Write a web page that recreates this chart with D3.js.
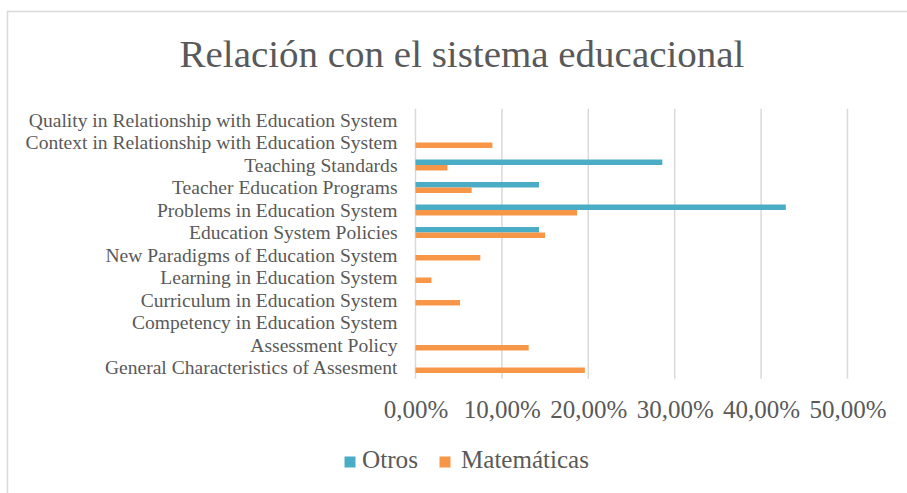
<!DOCTYPE html>
<html>
<head>
<meta charset="utf-8">
<script src="https://cdn.jsdelivr.net/npm/d3@7"></script>
<style>
  html, body { margin: 0; padding: 0; background: #fff; }
  svg { display: block; }
  svg text { font-family: "Liberation Serif", "DejaVu Serif", serif; fill: #595959; }
</style>
</head>
<body>
<svg id="chart" width="907" height="493"></svg>
<script>
// Categories, top to bottom
const categories = [
  "Quality in Relationship with Education System",
  "Context in Relationship with Education System",
  "Teaching Standards",
  "Teacher Education Programs",
  "Problems in Education System",
  "Education System Policies",
  "New Paradigms of Education System",
  "Learning in Education System",
  "Curriculum in Education System",
  "Competency in Education System",
  "Assessment Policy",
  "General Characteristics of Assesment"
];
const seriesNames = ["Otros", "Matemáticas"];
// Percent values per category
const otros       = [0, 0, 28.57, 14.29, 42.86, 14.29, 0, 0, 0, 0, 0, 0];
const matematicas = [0, 8.9, 3.7, 6.5, 18.7, 15.0, 7.5, 1.85, 5.15, 0, 13.1, 19.6];
const xTicks = [0, 10, 20, 30, 40, 50];
const colors = { "Otros": "#4BACC6", "Matemáticas": "#F79646" };

const FONT = "Liberation Serif, DejaVu Serif, serif";
const svg = d3.select("#chart");
const W = 907, H = 493;

// chart frame
svg.append("rect")
  .attr("x", 7.5).attr("y", 11.5)
  .attr("width", W + 10).attr("height", H + 10)
  .attr("fill", "#fff").attr("stroke", "#d9d9d9").attr("stroke-width", 1.5);

const plot = { left: 415.5, right: 847.5, top: 108.75, bottom: 378.75 };

const x = d3.scaleLinear().domain([0, 50]).range([plot.left, plot.right]);
const y = d3.scaleBand().domain(categories).range([plot.top, plot.bottom]).padding(0);
const ySub = d3.scaleBand().domain(seriesNames).range([0, y.bandwidth()])
  .paddingInner(0).paddingOuter(1.05);

// fit a text element's font size so it spans the given width
function fitWidth(sel, size, width) {
  sel.style("font-size", size + "px");
  const w = sel.node().getComputedTextLength();
  sel.style("font-size", (size * width / w) + "px");
}

// Title
const title = svg.append("text")
  .attr("x", 462).attr("y", 67)
  .attr("text-anchor", "middle")
  .style("font-family", FONT)
  .text("Relación con el sistema educacional");
fitWidth(title, 36, 565);

// Vertical gridlines
svg.append("g")
  .selectAll("line")
  .data(xTicks)
  .join("line")
  .attr("x1", d => x(d)).attr("x2", d => x(d))
  .attr("y1", plot.top).attr("y2", plot.bottom)
  .attr("stroke", "#d9d9d9").attr("stroke-width", 1.5);

// Bars
const rows = categories.map((c, i) => ({ c, Otros: otros[i], "Matemáticas": matematicas[i] }));
const groups = svg.append("g").selectAll("g")
  .data(rows)
  .join("g")
  .attr("transform", d => `translate(0,${y(d.c)})`);
groups.selectAll("rect")
  .data(d => seriesNames.map(s => ({ s, v: d[s] })))
  .join("rect")
  .attr("x", x(0))
  .attr("y", d => ySub(d.s))
  .attr("width", d => x(d.v) - x(0))
  .attr("height", ySub.bandwidth())
  .attr("fill", d => colors[d.s]);

// Category axis labels
const yAxis = d3.axisLeft(y).tickSize(0).tickPadding(0);
const yg = svg.append("g").attr("transform", `translate(${plot.left - 18},0)`).call(yAxis);
yg.select(".domain").remove();
yg.selectAll("text")
  .style("font-family", FONT)
  .style("font-size", "17px")
  .attr("fill", "#595959")
  .attr("dy", "0.35em");
{
  let maxW = 0;
  yg.selectAll("text").each(function () { maxW = Math.max(maxW, this.getComputedTextLength()); });
  yg.selectAll("text").style("font-size", (17 * 372 / maxW) + "px");
}

// Value axis labels
const xAxis = d3.axisBottom(x).tickValues(xTicks).tickSize(0).tickPadding(0)
  .tickFormat(d => d3.format(".2f")(d).replace(".", ",") + "%");
const xg = svg.append("g").attr("transform", `translate(0,418)`).call(xAxis);
xg.select(".domain").remove();
xg.selectAll("text")
  .style("font-family", FONT)
  .style("font-size", "25px")
  .attr("fill", "#595959")
  .attr("dy", 0);

// Legend
const legend = svg.append("g");
const legendItems = [
  { name: "Otros", sx: 344.5, tx: 362, w: 56 },
  { name: "Matemáticas", sx: 439.5, tx: 461, w: 128 }
];
legendItems.forEach(it => {
  legend.append("rect")
    .attr("x", it.sx).attr("y", 456.5)
    .attr("width", 11).attr("height", 11)
    .attr("fill", colors[it.name]);
  const t = legend.append("text")
    .attr("x", it.tx).attr("y", 468)
    .style("font-family", FONT)
    .text(it.name);
  fitWidth(t, 24, it.w);
});
</script>
</body>
</html>
